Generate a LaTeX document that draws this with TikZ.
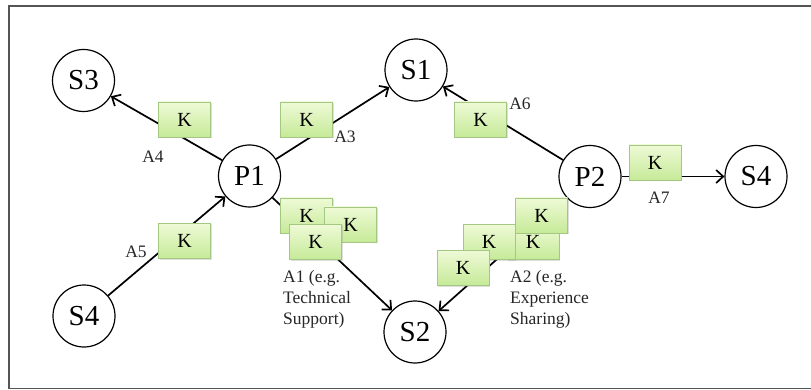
\documentclass[tikz,border=0pt]{standalone}
\usepackage{fontspec}
\setmainfont{Liberation Serif}
\usetikzlibrary{arrows.meta,shadows}
\begin{document}
\begin{tikzpicture}[x=1pt,y=-1pt,
  agent/.style={draw=black,line width=1.2pt,circle,minimum size=62pt,inner sep=0pt,
    font=\fontsize{29}{31}\selectfont},
  kbox/.style={draw=kedge,line width=0.8pt,top color=ktop,bottom color=kbot,
    minimum width=52pt,minimum height=35pt,inner sep=0pt,
    drop shadow={opacity=0.25,shadow xshift=1pt,shadow yshift=-1pt},
    font=\fontsize{20}{22}\selectfont},
  flow/.style={line width=1.7pt,-{Straight Barb[length=7pt,width=13pt,line width=1.7pt]}},
  tag/.style={font=\fontsize{17.5}{21}\selectfont,inner sep=0pt,text=black!85},
  note/.style={tag,align=left,anchor=west}]
\definecolor{ktop}{HTML}{EEFAD6}
\definecolor{kbot}{HTML}{C6EA98}
\definecolor{kedge}{HTML}{A4C784}
\definecolor{frame}{HTML}{555555}
\useasboundingbox (0,0) rectangle (811,390);
% outer frame (open on the right)
\draw[frame,line width=1.6pt] (815,6) -- (9,6) -- (9,388.5) -- (815,388.5);

% agents
\node[agent] (S3) at (83.5,80.5) {S3};
\node[agent] (S1) at (416,70) {S1};
\node[agent] (P1) at (249.5,176) {P1};
\node[agent] (P2) at (590,176.5) {P2};
\node[agent] (S4r) at (756,176.5) {S4};
\node[agent] (S4l) at (84,316) {S4};
\node[agent] (S2) at (415,332) {S2};

% knowledge flows
\draw[flow] (P1) -- (S3);
\draw[flow] (P1) -- (S1);
\draw[flow] (P2) -- (S1);
\draw[flow] (P2) -- (S4r);
\draw[flow] (S4l) -- (P1);
\draw[flow] (P1) -- (S2);
\draw[flow] (P2) -- (S2);

% knowledge packets
\node[kbox] (k4) at (184.5,119.5) {K};
\node[kbox] (k3) at (306.5,119.5) {K};
\node[kbox] (k6) at (480.5,119.5) {K};
\node[kbox] (k7) at (655,162.5) {K};
\node[kbox] (k5) at (184.5,241) {K};
\node[kbox] (k1a) at (306.5,215.5) {K};
\node[kbox] (k1b) at (350.5,224.5) {K};
\node[kbox] (k1c) at (315.5,242) {K};
\node[kbox] (k2e) at (533,242) {K};
\node[kbox] (k2f) at (489,242) {K};
\node[kbox] (k2d) at (541.5,215.5) {K};
\node[kbox] (k2g) at (463,268) {K};

% activity labels
\node[tag] (A4) at (153,157) {A4};
\node[tag] (A3) at (345,137) {A3};
\node[tag] (A6) at (520,104) {A6};
\node[tag] (A7) at (659,198) {A7};
\node[tag] (A5) at (136,252) {A5};
\node[note] (A1) at (283,299) {A1 (e.g.\\Technical\\Support)};
\node[note] (A2) at (510,299) {A2 (e.g.\\Experience\\Sharing)};
\end{tikzpicture}
\end{document}
